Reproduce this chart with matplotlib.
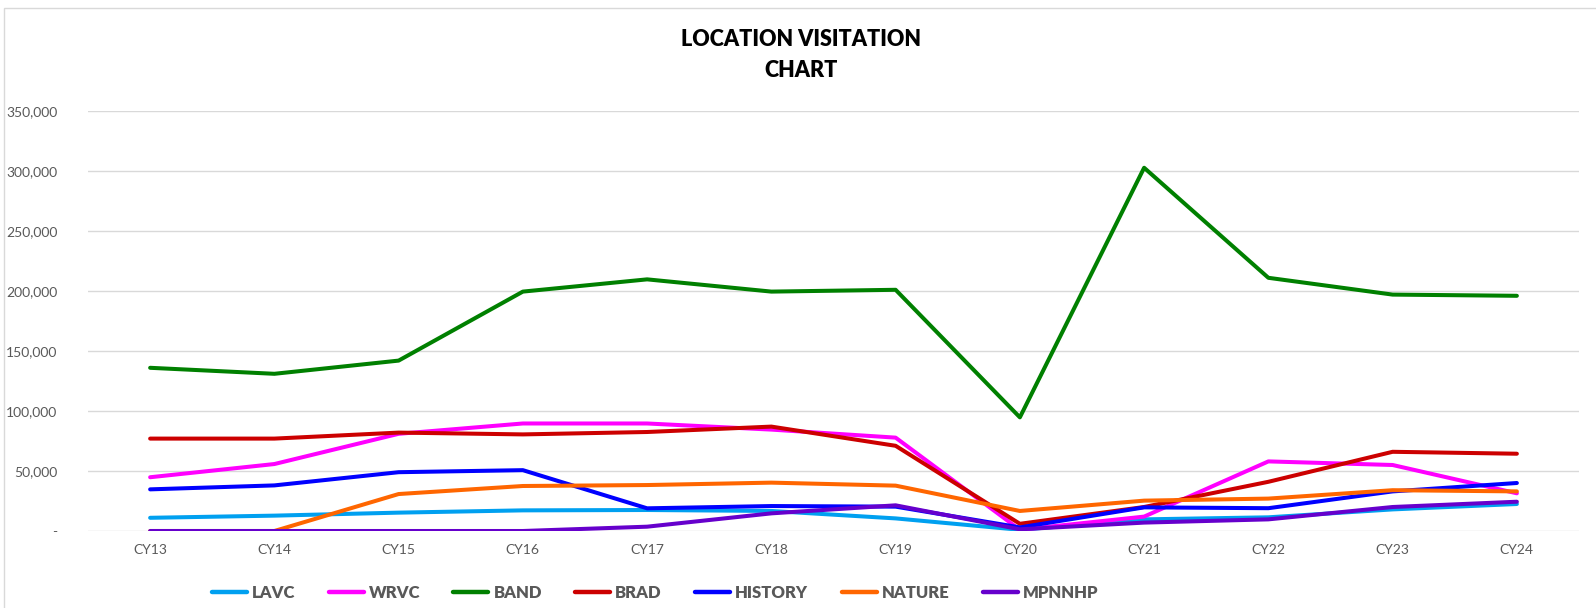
import matplotlib.pyplot as plt
from matplotlib.patches import Rectangle
from matplotlib.ticker import FuncFormatter

years = ["CY13", "CY14", "CY15", "CY16", "CY17", "CY18",
         "CY19", "CY20", "CY21", "CY22", "CY23", "CY24"]

lavc = [11000, 12800, 15300, 17200, 17500, 16700, 10500, 1000, 9700, 11400, 18000, 22500]
wrvc = [44800, 55800, 81000, 89600, 89600, 84500, 77800, 1000, 12000, 58000, 55000, 31400]
band = [136000, 131000, 142000, 199500, 209700, 199500, 201000, 94700, 302700, 211000, 197000, 196000]
brad = [77000, 77000, 82000, 80500, 82500, 87000, 71000, 6000, 20000, 41000, 66000, 64400]
history = [34700, 38000, 49000, 50700, 18900, 20800, 20300, 3000, 19700, 19000, 33000, 40000]
nature = [0, 0, 30800, 37500, 38300, 40300, 37800, 16700, 25300, 27000, 34000, 33000]
mpnnhp = [0, 0, 0, 0, 3600, 14700, 21400, 1400, 7000, 9700, 20000, 24400]

series = [("LAVC", lavc, "#00A0F0"),
          ("WRVC", wrvc, "#FF00FF"),
          ("BAND", band, "#008000"),
          ("BRAD", brad, "#CC0000"),
          ("HISTORY", history, "#0000FF"),
          ("NATURE", nature, "#FF6600"),
          ("MPNNHP", mpnnhp, "#6600CC")]

plt.rcParams['font.family'] = ['Lato', 'DejaVu Sans']

fig = plt.figure(figsize=(15.96, 6.08), dpi=100)
fig.patches.append(Rectangle((4 / 1596, -0.05), 1.1, 1 - 8 / 608 + 0.05,
                             transform=fig.transFigure, fill=False,
                             edgecolor="#D9D9D9", linewidth=1))

ax = fig.add_axes([88 / 1596, 1 - 531 / 608, (1579 - 88) / 1596, 420 / 608])

x = list(range(len(years)))
for name, vals, color in series:
    ax.plot(x, vals, color=color, linewidth=2.9, label=name, solid_capstyle="round")

ax.set_xlim(-0.5, len(years) - 0.5)
ax.set_ylim(0, 350000)
ax.set_yticks(range(0, 350001, 50000))
ax.yaxis.set_major_formatter(FuncFormatter(lambda v, p: "-" if v == 0 else f"{int(v):,}"))
ax.set_xticks(x)
ax.set_xticklabels(years)
ax.grid(axis="y", color="#D9D9D9", linewidth=1)
ax.set_axisbelow(True)
for s in ax.spines.values():
    s.set_visible(False)
ax.tick_params(axis="both", length=0, labelsize=10, labelcolor="#595959")
ax.tick_params(axis="y", pad=22)
ax.tick_params(axis="x", pad=9)

fig.text(801 / 1596, 1 - 55 / 608, "LOCATION VISITATION\nCHART", ha="center", va="center",
         fontsize=15.5, fontweight="heavy", linespacing=1.6)

leg = fig.legend(loc="center", bbox_to_anchor=(655 / 1596, 1 - 593 / 608), ncol=7,
                 frameon=False, handlelength=2.1, handletextpad=0.3, columnspacing=2.0,
                 prop={"size": 12, "weight": "heavy"})
for t in leg.get_texts():
    t.set_color("#595959")
for h in leg.get_lines():
    h.set_linewidth(3.2)

fig.savefig("out.png", dpi=100)
